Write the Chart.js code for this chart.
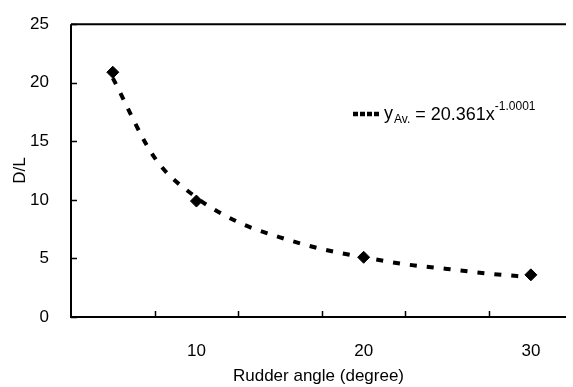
<!DOCTYPE html>
<html>
<head>
<meta charset="utf-8">
<script src="https://cdn.jsdelivr.net/npm/chart.js@4"></script>
<style>
  html, body { margin: 0; padding: 0; background: #fff; }
  #wrap { width: 573px; height: 387px; }
</style>
</head>
<body>
<div id="wrap"><canvas id="myChart"></canvas></div>
<script>
// Rudder angle vs D/L (measured points)
const angles = [5, 10, 20, 30];
const dlValues = [20.9, 9.9, 5.1, 3.6];

// Power trendline
const trendAngles = [5, 7.5, 10, 12.5, 15, 17.5, 20, 22.5, 25, 27.5, 30];
const trendValues = [20.4, 13.6, 10.2, 8.1, 6.8, 5.8, 5.1, 4.5, 4.1, 3.7, 3.4];

// axis ticks: labels and category boundaries (tick marks)
const xLabelTicks = [10, 20, 30];
const xMarkTicks = [7.5, 12.5, 17.5, 22.5, 27.5];
const yTicks = [0, 5, 10, 15, 20, 25];

const trendCoef = '20.361';
const trendExp = '-1.0001';

const FONT = '"Liberation Sans", Arial, sans-serif';

const ctx = document.getElementById('myChart').getContext('2d');

// draws the frame, inward tick marks and the trendline legend
const framePlugin = {
    id: 'frame',
    afterDraw(chart) {
        const c = chart.ctx;
        const a = chart.chartArea;
        const xs = chart.scales.x;
        const ys = chart.scales.y;
        c.save();
        c.strokeStyle = '#000';
        c.lineWidth = 2;
        c.beginPath();
        c.moveTo(a.left, a.top);
        c.lineTo(a.right, a.top);
        c.moveTo(a.left, a.top);
        c.lineTo(a.left, a.bottom);
        c.lineTo(a.right, a.bottom);
        c.stroke();

        c.lineWidth = 1.5;
        c.beginPath();
        xMarkTicks.forEach(v => {
            const px = Math.round(xs.getPixelForValue(v)) + 0.5;
            c.moveTo(px, a.bottom);
            c.lineTo(px, a.bottom - 6);
        });
        yTicks.forEach(v => {
            const py = Math.round(ys.getPixelForValue(v)) + 0.5;
            c.moveTo(a.left, py);
            c.lineTo(a.left + 6, py);
        });
        c.stroke();

        // legend
        const lx = 353, ly = 114;
        c.strokeStyle = '#000';
        c.lineWidth = 4.5;
        c.setLineDash([5, 2]);
        c.beginPath();
        c.moveTo(lx, ly);
        c.lineTo(lx + 26, ly);
        c.stroke();
        c.setLineDash([]);

        c.fillStyle = '#000';
        c.textBaseline = 'alphabetic';
        c.textAlign = 'left';
        let tx = lx + 31;
        c.font = '18px ' + FONT;
        c.fillText('y', tx, ly + 5);
        tx += c.measureText('y').width + 1;
        c.font = '12px ' + FONT;
        c.fillText('Av.', tx, ly + 9);
        tx += c.measureText('Av.').width;
        c.font = '18px ' + FONT;
        const mid = ' = ' + trendCoef + 'x';
        c.fillText(mid, tx, ly + 6);
        tx += c.measureText(mid).width;
        c.font = '12px ' + FONT;
        c.fillText(trendExp, tx, ly - 4);
        c.restore();
    }
};

const myChart = new Chart(ctx, {
    type: 'scatter',
    data: {
        datasets: [
            {
                label: 'D/L',
                data: angles.map((a, i) => ({ x: a, y: dlValues[i] })),
                showLine: false,
                pointStyle: 'rectRot',
                pointRadius: 6,
                backgroundColor: '#000',
                borderColor: '#000',
                borderWidth: 1,
                order: 1
            },
            {
                label: 'trend',
                data: trendAngles.map((a, i) => ({ x: a, y: trendValues[i] })),
                showLine: true,
                borderColor: '#000',
                borderWidth: 4,
                borderDash: [7, 10],
                cubicInterpolationMode: 'monotone',
                pointRadius: 0,
                order: 2
            }
        ]
    },
    options: {
        responsive: true,
        maintainAspectRatio: false,
        animation: false,
        layout: { padding: { top: 20, right: 0, left: 10, bottom: 0 } },
        plugins: {
            legend: { display: false },
            tooltip: { enabled: false }
        },
        scales: {
            x: {
                type: 'linear',
                min: 2.5,
                max: 32.1,
                grid: { display: false },
                border: { display: false },
                afterBuildTicks: s => { s.ticks = xLabelTicks.map(v => ({ value: v })); },
                afterFit: s => { s.height = 70; },
                ticks: {
                    color: '#000',
                    padding: 16,
                    maxRotation: 0,
                    font: { family: FONT, size: 17 }
                },
                title: {
                    display: true,
                    text: 'Rudder angle (degree)',
                    color: '#000',
                    padding: { top: 2, bottom: 0 },
                    font: { family: FONT, size: 17 }
                }
            },
            y: {
                min: 0,
                max: 25,
                grid: { display: false },
                border: { display: false },
                afterBuildTicks: s => { s.ticks = yTicks.map(v => ({ value: v })); },
                afterFit: s => { s.width = 61; },
                ticks: {
                    color: '#000',
                    padding: 14,
                    font: { family: FONT, size: 17 }
                },
                title: {
                    display: true,
                    text: 'D/L',
                    color: '#000',
                    padding: { top: 0, bottom: 0 },
                    font: { family: FONT, size: 17 }
                }
            }
        }
    },
    plugins: [framePlugin]
});
</script>
</body>
</html>
